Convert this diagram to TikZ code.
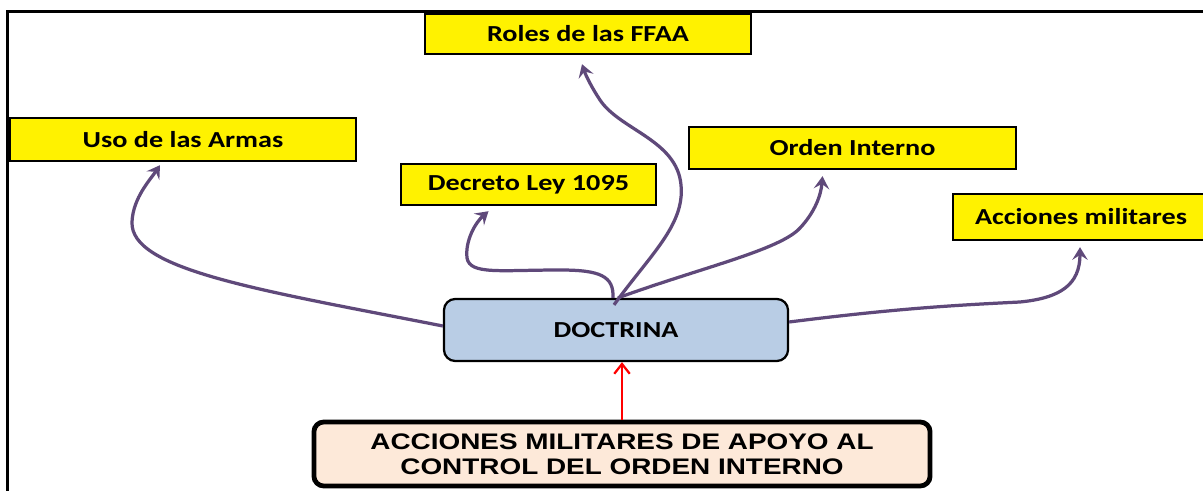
\documentclass[tikz,border=0pt]{standalone}
\usepackage{fontspec}
\usetikzlibrary{arrows.meta,calc}
\newfontfamily\calfont[FakeStretch=1.23]{Carlito}
\newfontfamily\arialfont[FakeStretch=1.24]{Liberation Sans}
\definecolor{arrowpurple}{HTML}{5F497A}
\definecolor{docblue}{HTML}{B9CDE5}
\definecolor{peach}{HTML}{FDE9D9}
\tikzset{
  ybox/.style={draw=black, line width=1.7pt, fill=yellow, inner sep=0pt,
    font=\calfont\bfseries\fontsize{16.3pt}{19pt}\selectfont},
  docbox/.style={draw=black, line width=1.6pt, fill=docblue, rounded corners=8pt, inner sep=0pt,
    font=\calfont\bfseries\fontsize{16.3pt}{19pt}\selectfont},
  basebox/.style={draw=black, line width=3.4pt, fill=peach, rounded corners=7pt, inner sep=0pt, align=center,
    font=\arialfont\bfseries\fontsize{16pt}{17.8pt}\selectfont},
  linkarrow/.style={draw=arrowpurple, line width=2.3pt, -{Stealth[length=9pt,width=11pt,inset=3.5pt]}},
  redarrow/.style={draw=red, line width=1.6pt, -{Straight Barb[length=7pt,width=11pt]}},
  framestyle/.style={draw=black, line width=2.3pt}
}
\begin{document}
\begin{tikzpicture}[x=0.025cm,y=-0.025cm]
\useasboundingbox (0,0) rectangle (1203,491);
\fill[white] (0,0) rectangle (1203,491);
\clip (0,0) rectangle (1203,491);
\draw[framestyle] (7.5,495) -- (7.5,11.5) -- (1210,11.5);

\node[ybox, minimum width=8.15cm, minimum height=1.0cm] (roles) at (588,34) {Roles de las FFAA};
\node[ybox, minimum width=8.65cm, minimum height=1.075cm] (uso) at (183,139.5) {Uso de las Armas};
\node[ybox, minimum width=6.375cm, minimum height=1.025cm] (dec) at (528.5,184.5) {Decreto Ley 1095};
\node[ybox, minimum width=8.175cm, minimum height=1.05cm] (orden) at (852.5,148) {Orden Interno};
\node[ybox, minimum width=6.4cm, minimum height=1.15cm] (acc) at (1081,217) {Acciones militares};
\node[docbox, minimum width=8.6cm, minimum height=1.55cm] (doc) at (616,330) {DOCTRINA};
\node[basebox, minimum width=15.4cm, minimum height=1.6cm] (bot) at (622,454)
  {ACCIONES MILITARES DE APOYO AL\\CONTROL DEL ORDEN INTERNO};

% connectors
\draw[linkarrow] ($(doc.west)+(0,-4)$) .. controls (260,290) and (130,270) .. (132,222)
  .. controls (133,198) and (150,180) .. ($(uso.south)+(-23,3)$);
\draw[linkarrow] ($(doc.north)+(-3,0)$) .. controls (614,276) and (600,270) .. (560,270)
  .. controls (500,270) and (470,275) .. (467,258)
  .. controls (465,240) and (476,222) .. ($(dec.south)+(-40,5)$);
\draw[linkarrow] ($(doc.north)+(-2,7)$) .. controls (650,255) and (685,225) .. (681,185)
  .. controls (677,140) and (620,130) .. (600,100)
  .. controls (592,88) and (586,76) .. ($(roles.south)+(-6,9)$);
\draw[linkarrow] ($(doc.north)+(2,0)$) .. controls (700,268) and (780,250) .. (800,228)
  .. controls (815,212) and (821,195) .. ($(orden.south)+(-30,6)$);
\draw[linkarrow] ($(doc.east)+(0,-8)$) .. controls (900,308) and (960,305) .. (1020,302)
  .. controls (1060,298) and (1080,285) .. ($(acc.south)+(-1,6)$);
\draw[redarrow] (bot.north) -- (bot.north |- doc.south);
\end{tikzpicture}
\end{document}
